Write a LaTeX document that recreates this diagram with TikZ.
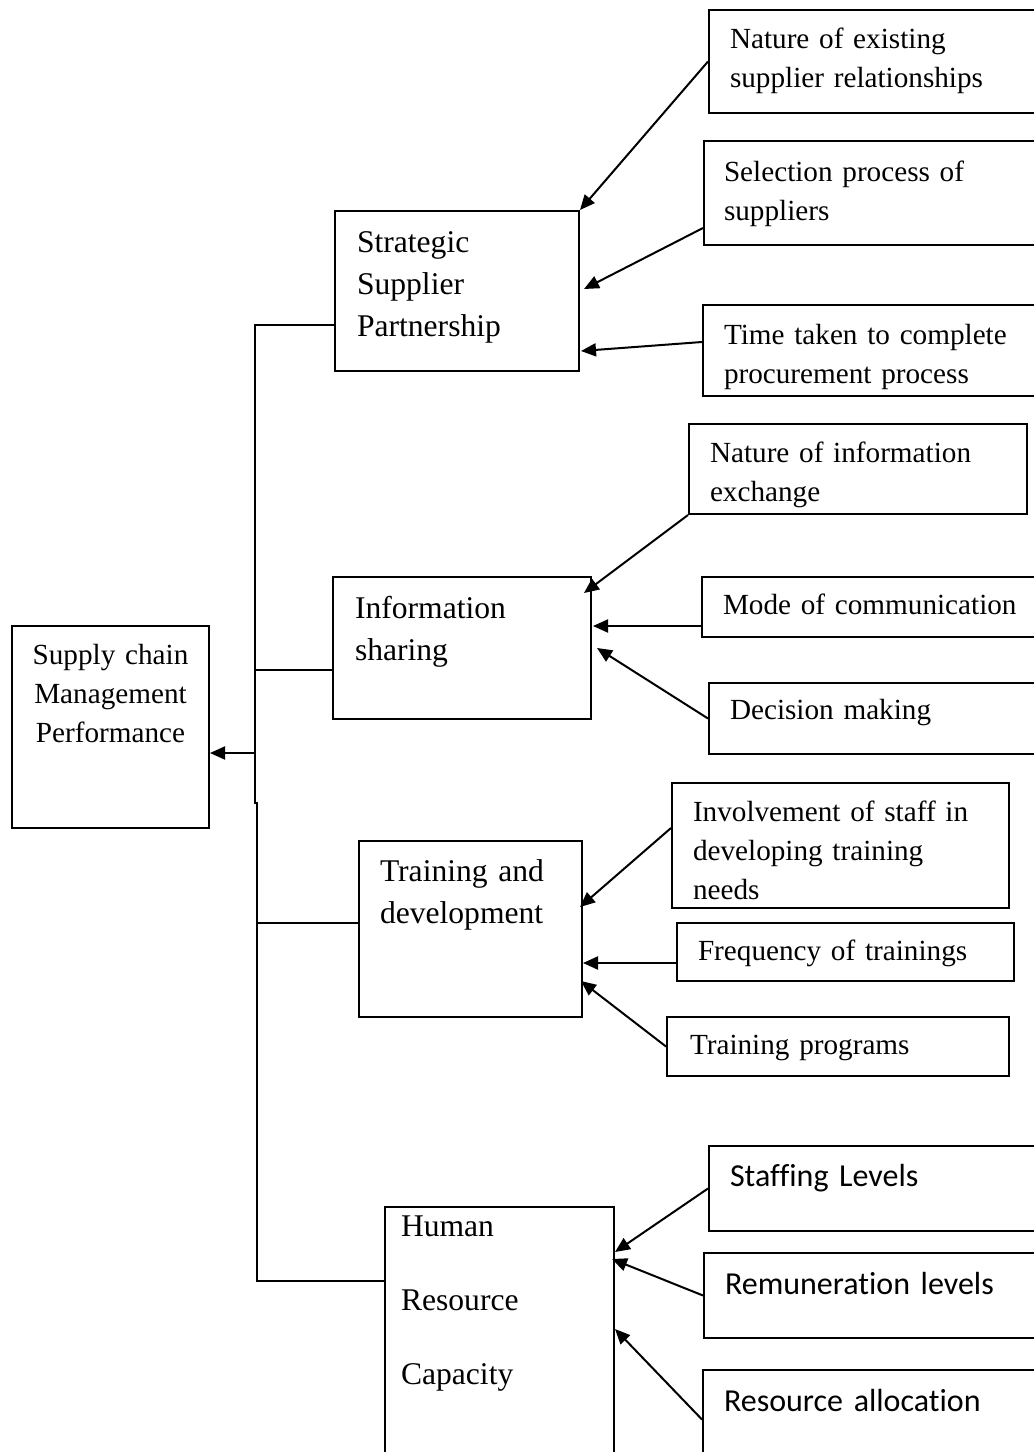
\documentclass[tikz,border=0pt]{standalone}
\usepackage{fontspec}
\setmainfont{Liberation Serif}
\newfontfamily\calibrifont[Ligatures=NoCommon]{Carlito}
\usetikzlibrary{arrows.meta}

\begin{document}
\begin{tikzpicture}[
    x=0.5pt, y=-0.5pt,
    box/.style={draw, line width=1pt, anchor=north west, align=left, inner ysep=0pt},
    mainbox/.style={box, font=\fontsize{15.8}{21}\selectfont},
    subbox/.style={box, font=\fontsize{14.6}{19.5}\selectfont},
    calbox/.style={box, font=\calibrifont\fontsize{16}{21}\selectfont},
    arrow/.style={-{Triangle[length=7.5pt, width=6.5pt]}, line width=1pt},
    link/.style={line width=1pt}
  ]

  \useasboundingbox (0,0) rectangle (1034,1452);
  \clip (0,0) rectangle (1034,1452);

  % --- Dependent variable (left) ---
  \node[subbox, align=center, inner xsep=4pt, text width=90.5pt, text height=19pt, text depth=82pt] (scm) at (11,625) {Supply chain\\Management\\Performance};

  % --- Independent variables ---
  \node[mainbox, inner xsep=11pt, text width=100pt, text height=20.5pt, text depth=59.5pt] (ssp) at (334,210) {Strategic\\Supplier\\Partnership};
  \node[mainbox, inner xsep=11pt, text width=107pt, text height=20.5pt, text depth=50.5pt] (infs) at (332,576) {Information\\sharing};
  \node[mainbox, inner xsep=10.5pt, text width=90.5pt, text height=20pt, text depth=68pt] (trd) at (358,840) {Training and\\development};
  \node[mainbox, inner xsep=8pt, text width=98.5pt, text height=14.5pt, text depth=122.5pt] (hrc) at (384,1206) {Human\\[16pt]Resource\\[16pt]Capacity};

  % --- Indicators: supplier partnership ---
  \node[subbox, inner xsep=10.5pt, text width=155pt, text height=19pt, text depth=32.5pt] (exrel) at (708,9) {Nature of existing\\supplier relationships};
  \node[subbox, inner xsep=10pt, text width=158.5pt, text height=20pt, text depth=32pt] (selproc) at (703,140) {Selection process of\\suppliers};
  \node[subbox, inner xsep=10.5pt, text width=158pt, text height=19.5pt, text depth=26pt] (proctime) at (702,304) {Time taken to complete\\procurement process};

  % --- Indicators: information sharing ---
  \node[subbox, inner xsep=10.5pt, text width=148pt, text height=19pt, text depth=26pt] (infex) at (688,423) {Nature of information\\exchange};
  \node[subbox, inner xsep=10.5pt, text width=158.5pt, text height=18.5pt, text depth=11.5pt] (commode) at (701,576) {Mode of communication};
  \node[subbox, inner xsep=10.5pt, text width=155pt, text height=18pt, text depth=17.5pt] (decmak) at (708,682) {Decision making};

  % --- Indicators: training ---
  \node[subbox, inner xsep=10.5pt, text width=147.5pt, text height=19pt, text depth=43.5pt] (staffinv) at (671,782) {Involvement of staff in\\developing training\\needs};
  \node[subbox, inner xsep=10.5pt, text width=147.5pt, text height=18.5pt, text depth=10.5pt] (trfreq) at (676,922) {Frequency of trainings};
  \node[subbox, inner xsep=11.5pt, text width=148pt, text height=18.5pt, text depth=11pt] (trprog) at (666,1016) {Training programs};

  % --- Indicators: human resource ---
  \node[calbox, inner xsep=10.5pt, text width=155pt, text height=20pt, text depth=22.5pt] (stafflv) at (708,1145) {Staffing Levels};
  \node[calbox, inner xsep=10.5pt, text width=157.5pt, text height=20.5pt, text depth=22pt] (remun) at (703,1252) {Remuneration levels};
  \node[calbox, inner xsep=10.5pt, text width=158pt, text height=20.5pt, text depth=35pt] (resalloc) at (702,1369) {Resource allocation};

  % --- Bracket to the dependent variable ---
  \coordinate (hub) at (255,753);
  \coordinate (jog) at (255,803);
  \draw[link] ([yshift=-17pt]ssp.west) -| (jog) -- ++(2,0) |- ([yshift=31.5pt]hrc.west);
  \draw[link] ([yshift=-11pt]infs.west) -- ++(-77,0);
  \draw[link] ([yshift=3pt]trd.west) -- ++(-101,0);
  \draw[arrow] (hub) -- (hub -| scm.east);

  % --- Arrows into supplier partnership ---
  \draw[arrow] (exrel.west) -- (ssp.north east);
  \draw[arrow] ([yshift=-17.5pt]selproc.west) -- ([xshift=2pt, yshift=1pt]ssp.east);
  \draw[arrow] ([yshift=4.25pt]proctime.west) -- ([xshift=0.5pt, yshift=-30pt]ssp.east);

  % --- Arrows into information sharing ---
  \draw[arrow] (infex.south west) -- ([xshift=-4pt, yshift=-8.5pt]infs.north east);
  \draw[arrow] ([yshift=-9.5pt]commode.west) -- ([xshift=0.5pt, yshift=11pt]infs.east);
  \draw[arrow] (decmak.west) -- ([xshift=2.5pt]infs.east);

  % --- Arrows into training ---
  \draw[arrow] ([yshift=8.75pt]staffinv.west) -- ([xshift=-1.5pt, yshift=11pt]trd.east);
  \draw[arrow] ([yshift=-5.5pt]trfreq.west) -- ([yshift=-17pt]trd.east);
  \draw[arrow] (trprog.west) -- ([xshift=-1pt, yshift=-26pt]trd.east);

  % --- Arrows into human resource ---
  \draw[arrow] (stafflv.west) -- ([yshift=-23pt]hrc.north east);
  \draw[arrow] (remun.west) -- ([xshift=-1.5pt, yshift=-26.5pt]hrc.north east);
  \draw[arrow] ([yshift=3pt]resalloc.west) -- ([yshift=-61.5pt]hrc.north east);

\end{tikzpicture}
\end{document}
